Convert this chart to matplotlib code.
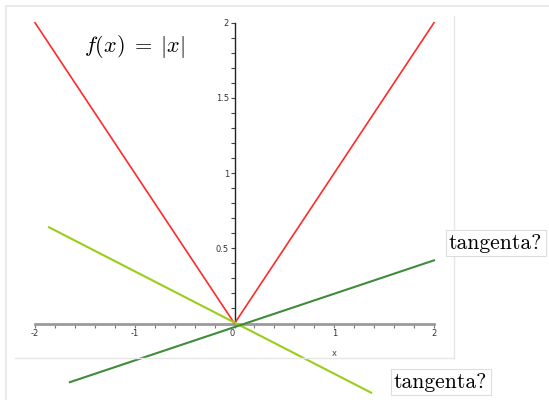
import matplotlib
matplotlib.use("Agg")
import matplotlib.pyplot as plt
from matplotlib.lines import Line2D
from matplotlib.ticker import FixedLocator

plt.rcParams['mathtext.fontset'] = 'cm'

# f(x) = |x|
abs_x = [-2, 0, 2]
abs_y = [2, 0, 2]

# two candidate "tangents" through the corner
tan1_x = [-1.86, 1.37]
tan1_y = [0.64, -0.46]
tan2_x = [-1.65, 2.0]
tan2_y = [-0.39, 0.42]

xticks = [-2, -1, 0, 1, 2]
xtick_labels = ['-2', '-1', '0', '1', '2']
yticks = [0.5, 1, 1.5, 2]
ytick_labels = ['0.5', '1', '1.5', '2']

fig = plt.figure(figsize=(5.49, 4.0), dpi=100)
ax = fig.add_axes([0, 0, 1, 1])
ax.set_xlim(-2.351, 3.153)
ax.set_ylim(-0.5086, 2.151)
ax.patch.set_alpha(0)

# page frame and plot frame (thin light gray)
W, H = 549.0, 400.0
frame = '#e6e6e6'
fig.add_artist(Line2D([6/W, 1], [1-6/H, 1-6/H], color=frame, lw=1.2, transform=fig.transFigure))
fig.add_artist(Line2D([6/W, 6/W], [0, 1-6/H], color=frame, lw=1.2, transform=fig.transFigure))
fig.add_artist(Line2D([454/W, 454/W], [1-16/H, 1-358/H], color=frame, lw=1.0, transform=fig.transFigure))
fig.add_artist(Line2D([15/W, 454/W], [1-358/H, 1-358/H], color=frame, lw=1.0, transform=fig.transFigure))

ax.plot(abs_x, abs_y, color='#ff2a2a', lw=1.2, zorder=3)
ax.plot(tan1_x, tan1_y, color='#9acd1a', lw=1.5, zorder=3)
ax.plot(tan2_x, tan2_y, color='#3e8c3a', lw=1.5, zorder=3)

# axes crossing at the origin
for s in ['top', 'right']:
    ax.spines[s].set_visible(False)
ax.spines['left'].set_position(('data', 0))
ax.spines['bottom'].set_position(('data', 0))
ax.spines['left'].set_bounds(0, 2)
ax.spines['bottom'].set_bounds(-2, 2)
ax.spines['left'].set_color('#222222')
ax.spines['left'].set_linewidth(1.0)
ax.spines['bottom'].set_color('#9a9a9a')
ax.spines['bottom'].set_linewidth(2.0)

ax.set_xticks(xticks, xtick_labels)
ax.set_yticks(yticks, ytick_labels)
# minor ticks only along the drawn axes
ax.xaxis.set_minor_locator(FixedLocator([round(-2 + 0.2*i, 2) for i in range(21)]))
ax.yaxis.set_minor_locator(FixedLocator([round(0.1*i, 2) for i in range(1, 21)]))
ax.tick_params(axis='x', which='both', direction='out', color='#777777', length=3, width=0.8,
               labelsize=6, pad=1, labelcolor='#333333')
ax.tick_params(axis='y', which='both', direction='out', color='#444444', length=3, width=0.8,
               labelsize=6, pad=1, labelcolor='#333333')
ax.xaxis.get_major_ticks()[2].label1.set_horizontalalignment('right')
ax.text(1.0, -0.2, 'x', fontsize=6, color='#444444', ha='center', va='center')

fig.text(84/W, 1-46/H, r'$f(x)\;=\;|x|$', fontsize=16, va='center', ha='left')

box = dict(boxstyle='square,pad=0.15', facecolor='white', edgecolor='#dddddd', lw=0.8)
fig.text(449/W, 1-243/H, 'tangenta?', fontname='cmr10', fontsize=15.5,
         va='center', ha='left', bbox=box)
fig.text(394/W, 1-382/H, 'tangenta?', fontname='cmr10', fontsize=15.5,
         va='center', ha='left', bbox=box)

fig.savefig('out.png', dpi=100)
